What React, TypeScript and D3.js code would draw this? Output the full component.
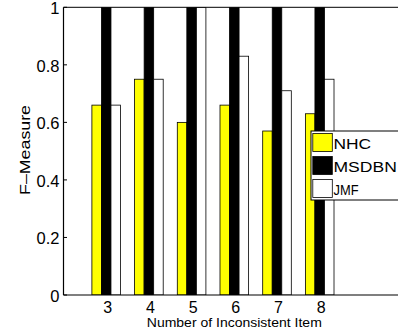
import React from "react";
import * as d3 from "d3";

const categories = [3, 4, 5, 6, 7, 8];
const seriesNames = ["NHC", "MSDBN", "JMF"];
const nhc = [0.66, 0.75, 0.6, 0.66, 0.57, 0.63];
const msdbn = [1, 1, 1, 1, 1, 1];
const jmf = [0.66, 0.75, 1, 0.83, 0.71, 0.75];
const seriesColors = ["#ffff00", "#000000", "#ffffff"];
const yTicks = [0, 0.2, 0.4, 0.6, 0.8, 1];
const yTickLabels = ["0", "0.2", "0.4", "0.6", "0.8", "1"];
const xLabel = "Number of Inconsistent Item";
const yLabel = "F\u2013Measure";

const W = 398;
const H = 331;
const FONT = "'Liberation Sans', Arial, Helvetica, sans-serif";

export default function App() {
  const left = 63.5;
  const top = 7.3;
  const bottom = 295;
  const x = d3.scaleLinear().domain([2, 10]).range([left, 405.1]);
  const y = d3.scaleLinear().domain([0, 1]).range([bottom, top]);
  const unit = x(1) - x(0);
  const groupW = unit * 0.67;
  const sub = d3.scaleBand<string>().domain(seriesNames).range([-groupW / 2, groupW / 2]).paddingInner(0);
  const allSeries = [nhc, msdbn, jmf];

  return (
    <svg
      width={W}
      height={H}
      style={{ position: "absolute", left: 0, top: 0, background: "#fff" }}
      fontFamily={FONT}
    >
      <rect x={0} y={0} width={W} height={H} fill="#fff" />
      <defs>
        <clipPath id="plotclip">
          <rect x={left} y={top} width={x(10) - left} height={bottom - top} />
        </clipPath>
      </defs>
      <g clipPath="url(#plotclip)">
        {categories.map((c, i) =>
          seriesNames.map((s, k) => {
            const v = allSeries[k][i];
            const x0 = x(c) + (sub(s) as number);
            return (
              <rect
                key={`${c}-${s}`}
                x={x0}
                y={y(v)}
                width={sub.bandwidth()}
                height={y(0) - y(v)}
                fill={seriesColors[k]}
                stroke="#000"
                strokeWidth={0.8}
              />
            );
          })
        )}
      </g>
      {/* axes frame */}
      <line x1={left} x2={W + 10} y1={top} y2={top} stroke="#000" strokeWidth={1} />
      <line x1={left} x2={W + 10} y1={bottom} y2={bottom} stroke="#000" strokeWidth={1.2} />
      <line x1={left} x2={left} y1={top} y2={bottom} stroke="#000" strokeWidth={1.2} />
      {yTicks.map((t, i) => (
        <g key={t}>
          <line x1={left} x2={left + 3.5} y1={y(t)} y2={y(t)} stroke="#000" strokeWidth={1} />
          <text
            x={59.5}
            y={y(t) + 1}
            textAnchor="end"
            dominantBaseline="central"
            fontSize={16.5}
            fill="#000"
          >
            {yTickLabels[i]}
          </text>
        </g>
      ))}
      {categories.map((c) => (
        <g key={c}>
          <line x1={x(c)} x2={x(c)} y1={bottom} y2={bottom - 3.5} stroke="#000" strokeWidth={1} />
          <text x={x(c) + 1.5} y={313} textAnchor="middle" fontSize={16} fill="#000">
            {c}
          </text>
        </g>
      ))}
      <text
        x={x(6)}
        y={326.5}
        textAnchor="middle"
        fontSize={12.5}
        textLength={175}
        lengthAdjust="spacingAndGlyphs"
        fill="#000"
      >
        {xLabel}
      </text>
      <text
        transform={`translate(29.5,150) rotate(-90)`}
        textAnchor="middle"
        fontSize={15}
        textLength={90}
        lengthAdjust="spacingAndGlyphs"
        fill="#000"
      >
        {yLabel}
      </text>
      {/* legend */}
      <g>
        <rect x={311} y={131} width={120} height={69} fill="#fff" stroke="#000" strokeWidth={1} />
        {seriesNames.map((s, k) => {
          const rowY = 133.5 + k * 23;
          const lens = [37.7, 63.3, 25];
          return (
            <g key={s}>
              <rect x={312.8} y={rowY} width={19.5} height={18} fill={seriesColors[k]} stroke="#000" strokeWidth={0.8} />
              <text
                x={333.5}
                y={rowY + 15.6}
                fontSize={14}
                textLength={lens[k]}
                lengthAdjust="spacingAndGlyphs"
                fill="#000"
              >
                {s}
              </text>
            </g>
          );
        })}
      </g>
    </svg>
  );
}
